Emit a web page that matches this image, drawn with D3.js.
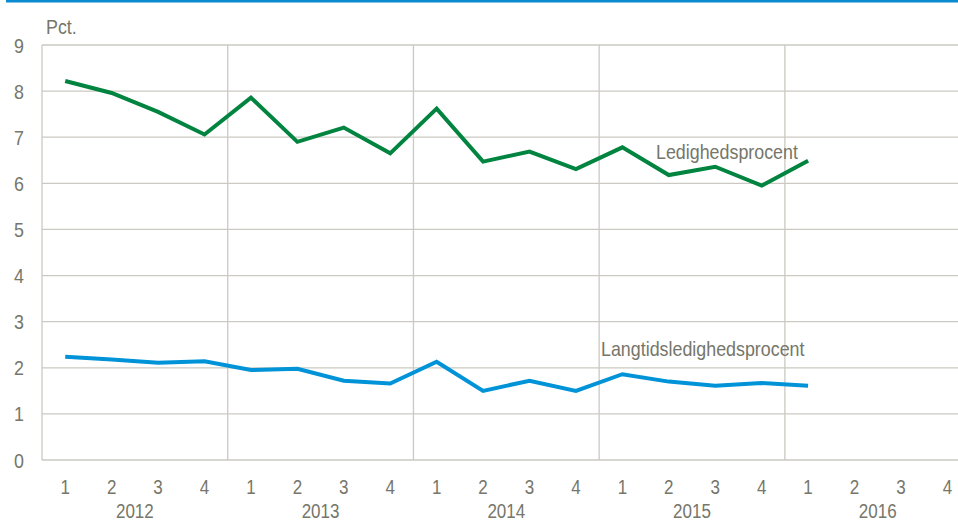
<!DOCTYPE html>
<html lang="da">
<head>
<meta charset="UTF-8" />
<title>Ledighed</title>
<style>
    body { margin: 0; background: #fff; }
    svg { display: block; }
    .lbl { font-family: "Liberation Sans Narrow", "Arial Narrow", "Liberation Sans", sans-serif; fill: #76766a; }
    .grid line { stroke: #cbc9c1; stroke-width: 1.3px; }
</style>
</head>
<body>
<svg width="958" height="523"></svg>
<script src="https://cdnjs.cloudflare.com/ajax/libs/d3/7.9.0/d3.min.js"></script>
<script>
    // data
    const years = ["2012", "2013", "2014", "2015", "2016"];
    const quarters = ["1", "2", "3", "4"];
    const ledighed = [8.22, 7.96, 7.55, 7.06, 7.86, 6.90, 7.21, 6.65, 7.62, 6.47, 6.69, 6.31, 6.78, 6.18, 6.36, 5.95, 6.49];
    const langtid = [2.24, 2.18, 2.11, 2.14, 1.95, 1.98, 1.72, 1.66, 2.13, 1.50, 1.72, 1.50, 1.86, 1.70, 1.61, 1.67, 1.61];
    const yTicks = [0, 1, 2, 3, 4, 5, 6, 7, 8, 9];

    const nQ = years.length * quarters.length;
    const svg = d3.select("svg");

    // top blue rule
    svg.append("rect").attr("x", 6).attr("y", 0).attr("width", 952).attr("height", 2.5).attr("fill", "#0a8bd0");

    const x = d3.scaleLinear().domain([0, nQ]).range([42, 970.6]);
    const y = d3.scaleLinear().domain([0, 9]).range([460, 45]);

    const grid = svg.append("g").attr("class", "grid");
    grid.selectAll("line.h")
        .data(yTicks)
        .enter()
        .append("line")
        .attr("x1", x(0)).attr("x2", 958)
        .attr("y1", (d) => y(d)).attr("y2", (d) => y(d));
    // vertical lines at year boundaries
    grid.selectAll("line.v")
        .data(d3.range(0, years.length))
        .enter()
        .append("line")
        .attr("x1", (d) => x(d * 4)).attr("x2", (d) => x(d * 4))
        .attr("y1", y(9)).attr("y2", y(0));

    // y tick labels
    svg.selectAll(".ytick")
        .data(yTicks)
        .enter()
        .append("text")
        .attr("class", "lbl")
        .attr("x", 24)
        .attr("y", (d) => y(d) + 7.5)
        .attr("text-anchor", "end")
        .style("font-size", "21px")
        .text((d) => d);

    svg.append("text").attr("class", "lbl").attr("x", 46).attr("y", 34).style("font-size", "21px").text("Pct.");

    // x labels
    const qs = d3.range(nQ);
    svg.selectAll(".qtick")
        .data(qs)
        .enter()
        .append("text")
        .attr("class", "lbl")
        .attr("x", (i) => x(i + 0.5))
        .attr("y", 493.5)
        .attr("text-anchor", "middle")
        .style("font-size", "20px")
        .text((i) => quarters[i % 4]);
    svg.selectAll(".ytext")
        .data(years)
        .enter()
        .append("text")
        .attr("class", "lbl")
        .attr("x", (d, i) => x(i * 4 + 2))
        .attr("y", 518)
        .attr("text-anchor", "middle")
        .style("font-size", "20px")
        .text((d) => d);

    const line = d3.line()
        .x((d, i) => x(i + 0.5))
        .y((d) => y(d));

    svg.append("path").datum(ledighed)
        .attr("fill", "none").attr("stroke", "#00843f").attr("stroke-width", 4)
        .attr("stroke-linejoin", "miter").attr("d", line);
    svg.append("path").datum(langtid)
        .attr("fill", "none").attr("stroke", "#0093d8").attr("stroke-width", 4)
        .attr("stroke-linejoin", "miter").attr("d", line);

    svg.append("text").attr("class", "lbl").attr("x", 656).attr("y", 158.5).style("font-size", "21px").text("Ledighedsprocent");
    svg.append("text").attr("class", "lbl").attr("x", 601).attr("y", 355.5).style("font-size", "21px").text("Langtidsledighedsprocent");

    // narrow look: squeeze every label horizontally
    svg.selectAll("text.lbl").each(function () {
        const w = this.getComputedTextLength();
        d3.select(this).attr("textLength", w * 0.85).attr("lengthAdjust", "spacingAndGlyphs");
    });
</script>
</body>
</html>
